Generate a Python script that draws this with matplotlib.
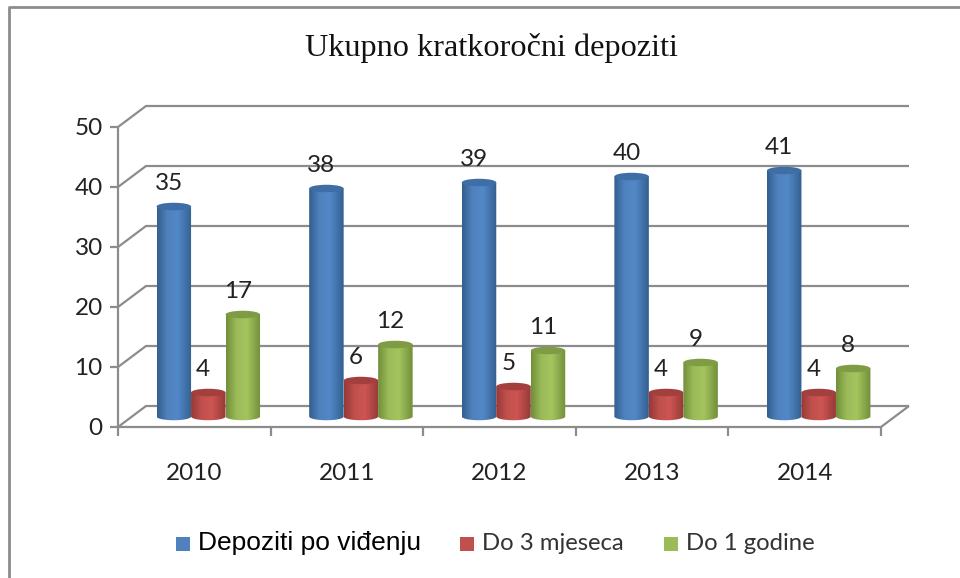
import numpy as np
import matplotlib
matplotlib.use('Agg')
from matplotlib import pyplot as plt
from matplotlib.patches import Ellipse, PathPatch, Rectangle
from matplotlib.path import Path
from matplotlib.colors import LinearSegmentedColormap

# Data
years = ['2010', '2011', '2012', '2013', '2014']
po_videnju = [35, 38, 39, 40, 41]
do_3_mjeseca = [4, 6, 5, 4, 4]
do_1_godine = [17, 12, 11, 9, 8]
series_names = ['Depoziti po viđenju', 'Do 3 mjeseca', 'Do 1 godine']
y_ticks = [0, 10, 20, 30, 40, 50]

# dark edge, light middle, dark edge
shades = [['#33608f', '#4f81bd', '#5288c8', '#34608f'],
          ['#963a37', '#c0504d', '#cd5552', '#963a37'],
          ['#728f3a', '#9bbb59', '#a3c55e', '#728f3a']]
top_colors = ['#3f6da6', '#a33f3c', '#7f9c44']
legend_colors = ['#4f81bd', '#c0504d', '#9bbb59']

fig = plt.figure(figsize=(9.6, 5.78), dpi=100)
# axes = front plane of the 3D box
ax = fig.add_axes([118/960, 1-427/578, (881-118)/960, 300/578])
ax.set_xlim(0, 5)
ax.set_ylim(0, 50)
ax.axis('off')

# depth of the box in data units
dx = 28/152.6
dy = 21/6
grid = '#8c8c8c'
line = dict(color=grid, lw=1.6, clip_on=False, solid_capstyle='butt')

# walls
for v in y_ticks:
    ax.plot([0, dx, 5+dx], [v, v+dy, v+dy], **line)
    ax.plot([-0.052, 0], [v, v], **line)
    ax.text(-0.1, v-0.2, str(v), ha='right', va='center', fontsize=17.5, family='Lato', color='#222222')
ax.plot([0, 0], [0, 50], **line)
ax.plot([0, 5, 5+dx], [0, 0, dy], **line)
for i in range(6):
    ax.plot([i, i], [0, -1.5], **line)
for i, y in enumerate(years):
    ax.text(i+0.5, -7.8, y, ha='center', va='center', fontsize=17.5, family='Lato', color='#222222')

# cylinders
w = 0.226
ell_h = 1.25
ell_w = w
off_x = dx/2
off_y = dy/2
all_series = [po_videnju, do_3_mjeseca, do_1_godine]
for s, vals in enumerate(all_series):
    cmap = LinearSegmentedColormap.from_list('c%d' % s, list(zip([0, 0.3, 0.6, 1], shades[s])))
    for i, v in enumerate(vals):
        cx = i + 0.5 + off_x + (s-1)*w
        base = off_y
        top = base + v
        left, right = cx-w/2, cx+w/2
        t = np.linspace(np.pi, 2*np.pi, 40)
        bx = cx + w/2*np.cos(t)
        by = base + ell_h/2*np.sin(t)
        verts = list(zip(bx, by)) + [(right, top), (left, top), (left, base)]
        body = Path(verts, closed=False)
        im = ax.imshow(np.linspace(0, 1, 64).reshape(1, -1), cmap=cmap, aspect='auto',
                       extent=[left, right, base-ell_h, top], zorder=3+s*0.1+i,
                       interpolation='bilinear')
        im.set_clip_path(PathPatch(body, transform=ax.transData))
        ax.add_patch(Ellipse((cx, top), ell_w, ell_h, fc=top_colors[s], ec='none', zorder=3.05+s*0.1+i))
        ax.text(cx - 0.033, top + 3.9, str(v), ha='center', va='center', fontsize=17.5,
                family='Lato', color='#222222', zorder=20)
ax.set_xlim(0, 5)
ax.set_ylim(0, 50)

# title
fig.text(491/960, 1-48/578, 'Ukupno kratkoročni depoziti', ha='center', va='center',
         fontsize=23.2, family='Liberation Serif', color='#111111')

# legend, drawn by hand to keep the mixed fonts
leg = [(176, series_names[0], 'Liberation Sans', 19, '#000000'),
       (460, series_names[1], 'Lato', 17.2, '#333333'),
       (664, series_names[2], 'Lato', 17.2, '#333333')]
for k, (x, name, fam, size, col) in enumerate(leg):
    fig.add_artist(Rectangle((x/960, 1-550.5/578), 14/960, 14/578, transform=fig.transFigure,
                             fc=legend_colors[k], ec='none'))
    fig.text((x+22)/960, 1-543/578, name, ha='left', va='center', fontsize=size, family=fam, color=col)

# outer frame, open on the right
fig.add_artist(plt.Line2D([8.5/960, 8.5/960, 1], [0, 1-6.5/578, 1-6.5/578],
                          color='#8c8c8c', lw=2, transform=fig.transFigure))

fig.savefig('out.png', dpi=100)
